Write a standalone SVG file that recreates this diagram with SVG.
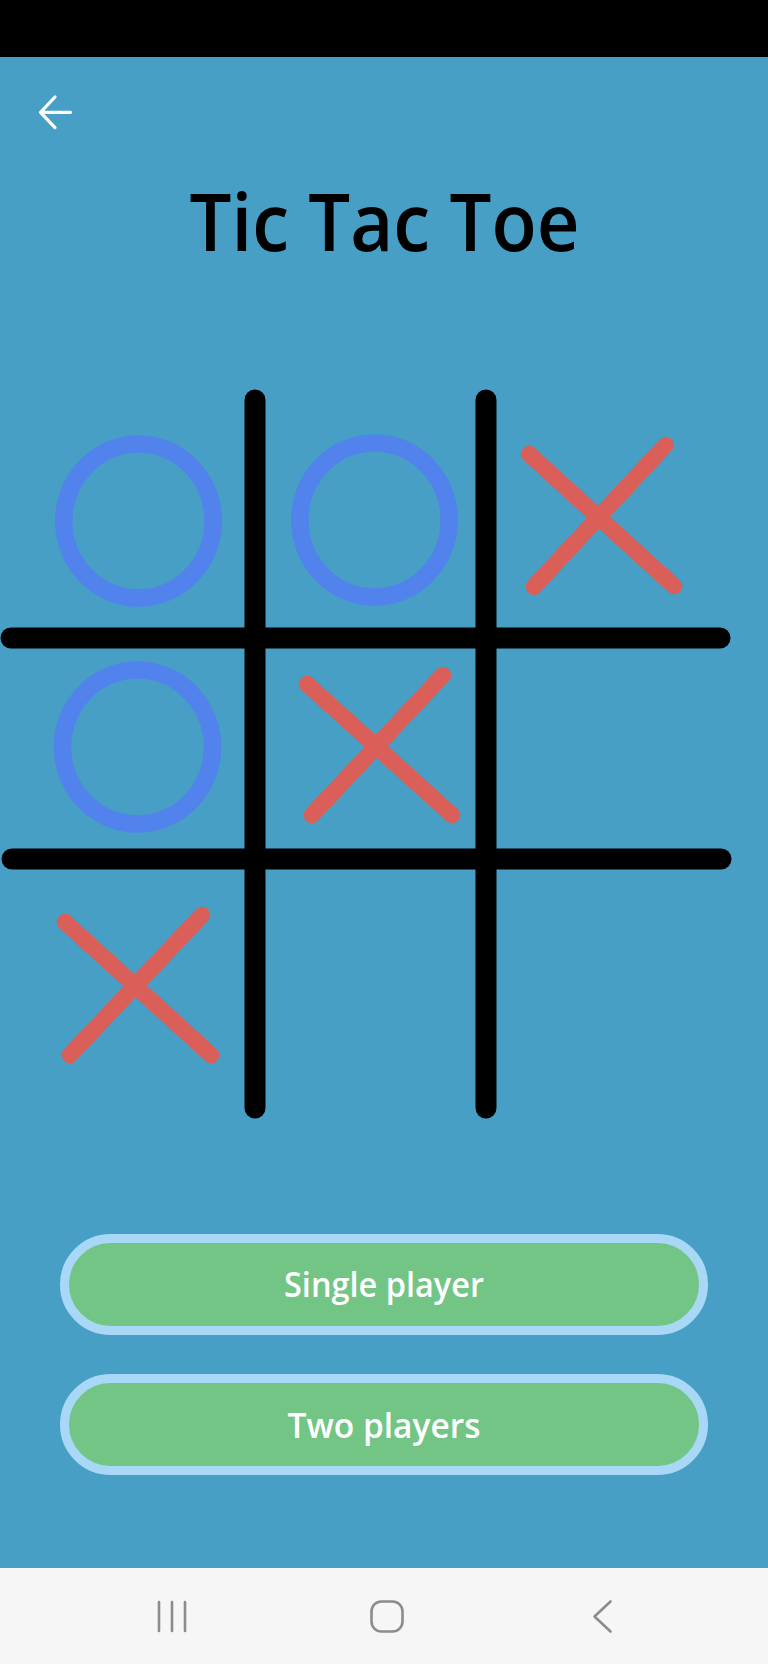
<svg xmlns="http://www.w3.org/2000/svg" width="768" height="1664" viewBox="0 0 768 1664">
<style>
.grid{stroke:#000;stroke-width:21;stroke-linecap:round;fill:none}
.o{fill:none;stroke:#5282EC;stroke-width:17.5}
.x{stroke:#DA5F59;stroke-width:16.5;stroke-linecap:round;fill:none}
.btn{fill:#72C585;stroke:#A8D8F6;stroke-width:9}
.btxt{font-family:"Open Sans","Noto Sans",sans-serif;font-size:34px;font-weight:600;fill:#fff;text-anchor:middle}
.nav{stroke:#8C8C8C;stroke-width:2.6;fill:none;stroke-linecap:round;stroke-linejoin:round}
</style>
<rect x="0" y="0" width="768" height="1664" fill="#479FC6"/>
<rect x="0" y="0" width="768" height="57" fill="#000"/>
<g id="back">
<path d="M70.5 112.3H41M55 97L40.5 112.3L55 127.7" stroke="#fff" stroke-width="3.2" fill="none" stroke-linecap="round" stroke-linejoin="round"/>
</g>
<g id="title">
<text x="384.5" y="251" font-family="'Open Sans','Noto Sans',sans-serif" font-size="80" font-weight="600" fill="#000" text-anchor="middle" textLength="390" lengthAdjust="spacingAndGlyphs">Tic Tac Toe</text>
</g>
<g id="board">
<line class="grid" x1="255" y1="400" x2="255" y2="1108"/>
<line class="grid" x1="486" y1="400" x2="486" y2="1108"/>
<line class="grid" x1="11" y1="638" x2="720" y2="638"/>
<line class="grid" x1="12" y1="859" x2="721" y2="859"/>
</g>
<g id="cell-1"><ellipse class="o" cx="138.5" cy="521" rx="74.7" ry="77"/></g>
<g id="cell-2"><ellipse class="o" cx="374.5" cy="520" rx="74.7" ry="77"/></g>
<g id="cell-3"><path class="x" d="M529 454L674 586M665.7 445L534 586.7"/></g>
<g id="cell-4"><ellipse class="o" cx="137.5" cy="747" rx="75" ry="77"/></g>
<g id="cell-5"><path class="x" d="M307 684L452 815M443 675L312 815"/></g>
<g id="cell-7"><path class="x" d="M65 922L211 1055M202 915L70 1055"/></g>
<g id="btn-single">
<rect class="btn" x="64.5" y="1238.5" width="639" height="92" rx="46"/>
<text class="btxt" x="384" y="1297" textLength="200" lengthAdjust="spacingAndGlyphs">Single player</text>
</g>
<g id="btn-two">
<rect class="btn" x="64.5" y="1378.5" width="639" height="92" rx="46"/>
<text class="btxt" x="384" y="1438" textLength="193" lengthAdjust="spacingAndGlyphs">Two players</text>
</g>
<rect x="0" y="1568" width="768" height="96" fill="#F6F6F6"/>
<g id="navbar">
<path class="nav" d="M159 1602V1631M172 1602V1631M185 1602V1631"/>
<rect class="nav" x="371.5" y="1601.5" width="31" height="30" rx="10"/>
<path class="nav" d="M610.5 1601.5L594.5 1616.5L610.5 1631.5"/>
</g>
<g id="connectors"></g>
</svg>
